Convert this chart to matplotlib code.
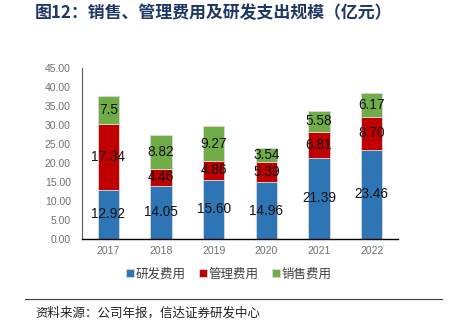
import matplotlib
matplotlib.use("Agg")
import matplotlib.pyplot as plt
from matplotlib.lines import Line2D
import numpy as np

plt.rcParams['font.family'] = ['Noto Sans CJK SC', 'DejaVu Sans']

years = ['2017', '2018', '2019', '2020', '2021', '2022']
rd = [12.92, 14.05, 15.60, 14.96, 21.39, 23.46]
admin = [17.34, 4.46, 4.86, 5.39, 6.81, 8.70]
sales = [7.5, 8.82, 9.27, 3.54, 5.58, 6.17]
rd_labels = ['12.92', '14.05', '15.60', '14.96', '21.39', '23.46']
admin_labels = ['17.34', '4.46', '4.86', '5.39', '6.81', '8.70']
sales_labels = ['7.5', '8.82', '9.27', '3.54', '5.58', '6.17']
series_names = ['研发费用', '管理费用', '销售费用']
colors = ['#2E75B6', '#C00000', '#70AD47']
yticks = [0, 5, 10, 15, 20, 25, 30, 35, 40, 45]

fig = plt.figure(figsize=(4.52, 3.35), dpi=100)
ax = fig.add_axes([82/452, 1-239/335, 316/452, 171/335])

x = np.arange(len(years))
w = 0.4
rd_a = np.array(rd); ad_a = np.array(admin); sa_a = np.array(sales)
b1 = ax.bar(x, rd_a, w, color=colors[0], edgecolor='#D9D9D9', linewidth=0.6, label=series_names[0])
b2 = ax.bar(x, ad_a, w, bottom=rd_a, color=colors[1], edgecolor='#D9D9D9', linewidth=0.6, label=series_names[1])
b3 = ax.bar(x, sa_a, w, bottom=rd_a+ad_a, color=colors[2], edgecolor='#D9D9D9', linewidth=0.6, label=series_names[2])

for bars, labs in [(b1, rd_labels), (b2, admin_labels), (b3, sales_labels)]:
    ax.bar_label(bars, labels=labs, label_type='center', fontsize=9.8, color='#111111',
                 family=['Liberation Sans'])

ax.set_xlim(-0.5, 5.5)
ax.set_ylim(0, 45)
ax.set_yticks(yticks)
ax.set_yticklabels([f'{v:.2f}' for v in yticks])
ax.set_xticks(x)
ax.set_xticklabels(years)
ax.tick_params(axis='both', length=0, labelsize=7.5, colors='#6F6F6F', pad=5)
for lab in ax.get_xticklabels() + ax.get_yticklabels():
    lab.set_family(['Liberation Sans'])
ax.tick_params(axis='y', pad=8)
ax.spines['top'].set_visible(False)
ax.spines['right'].set_visible(False)
ax.spines['left'].set_color('#595959')
ax.spines['left'].set_linewidth(0.8)
ax.spines['bottom'].set_color('#000000')
ax.spines['bottom'].set_linewidth(1.0)

fig.legend(handles=[b1, b2, b3], labels=series_names, loc='center', bbox_to_anchor=(229/452, 1-274/335),
           ncol=3, frameon=False, fontsize=9, handlelength=0.6, handleheight=0.6,
           handletextpad=0.15, columnspacing=1.1, labelcolor='#404040')

fig.text(35/452, 1-13/335, '图12：销售、管理费用及研发支出规模（亿元）', fontsize=12.2, fontweight='bold',
         color='#1F3864', va='center', ha='left')

fig.add_artist(Line2D([25/452, 442/452], [1-299/335, 1-299/335], color='#404040', linewidth=0.8,
                      transform=fig.transFigure))
fig.text(35/452, 1-313/335, '资料来源：公司年报，信达证券研发中心', fontsize=9, style='italic',
         color='#222222', va='center', ha='left')

fig.savefig('out.png', dpi=100)
